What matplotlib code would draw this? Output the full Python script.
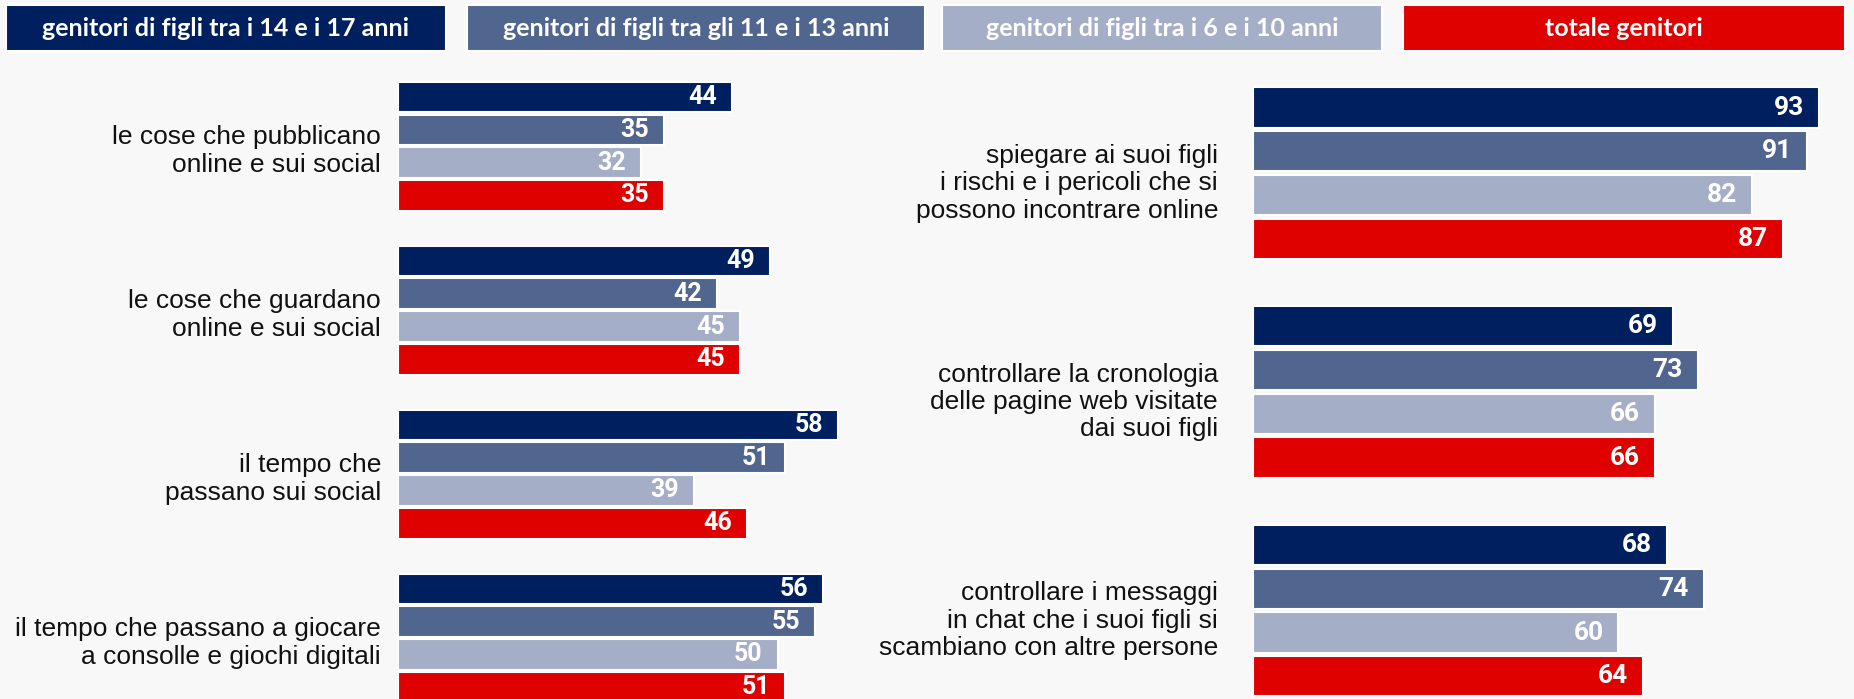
import matplotlib
matplotlib.use("Agg")
import matplotlib.pyplot as plt
from matplotlib.patches import Rectangle

# legend / series
series_names = ["genitori di figli tra i 14 e i 17 anni",
                "genitori di figli tra gli 11 e i 13 anni",
                "genitori di figli tra i 6 e i 10 anni",
                "totale genitori"]
colors = ["#001F5E", "#51668F", "#A4AEC6", "#DF0000"]

# left panel
left_labels = ["le cose che pubblicano\nonline e sui social",
               "le cose che guardano\nonline e sui social",
               "il tempo che\npassano sui social",
               "il tempo che passano a giocare\na consolle e giochi digitali"]
left_values = [[44, 35, 32, 35],
               [49, 42, 45, 45],
               [58, 51, 39, 46],
               [56, 55, 50, 51]]

# right panel
right_labels = ["spiegare ai suoi figli\ni rischi e i pericoli che si\npossono incontrare online",
                "controllare la cronologia\ndelle pagine web visitate\ndai suoi figli",
                "controllare i messaggi\nin chat che i suoi figli si\nscambiano con altre persone"]
right_values = [[93, 91, 82, 87],
                [69, 73, 66, 66],
                [68, 74, 60, 64]]

W, H = 1854, 699
bg = "#F8F8F8"
label_font = ["Liberation Sans", "DejaVu Sans"]
num_font = ["Roboto", "DejaVu Sans"]

fig = plt.figure(figsize=(W / 100, H / 100), dpi=100)
fig.patch.set_facecolor(bg)

# legend boxes along the top
lax = fig.add_axes([0, 0, 1, 1])
lax.set_xlim(0, W)
lax.set_ylim(H, 0)
lax.axis("off")
box_x = [(6, 446), (467, 925), (942, 1382), (1403, 1845)]
for (x0, x1), name, c in zip(box_x, series_names, colors):
    lax.add_patch(Rectangle((x0, 5), x1 - x0, 46, facecolor=c,
                            edgecolor="white", linewidth=1.5))
    lax.text((x0 + x1) / 2, 28, name, color="white", fontsize=18,
             fontweight="bold", ha="center", va="center", family="Lato")


def panel(left_px, xmax, px_per_unit, y0, pitch, values, labels,
          label_off, label_dy, bar_h, numsize):
    width_px = xmax * px_per_unit
    ax = fig.add_axes([left_px / W, 0, width_px / W, 1])
    ax.set_xlim(0, xmax)
    top = -y0 / pitch
    bottom = (H - y0) / pitch
    ax.set_ylim(bottom, top)
    ax.axis("off")
    for g, (vals, lab) in enumerate(zip(values, labels)):
        for j, v in enumerate(vals):
            k = 5 * g + j
            ax.barh(k, v, height=bar_h, color=colors[j], edgecolor="white",
                    linewidth=1.5)
            ax.annotate(str(v), xy=(v, k), xytext=(-15, 0),
                        textcoords="offset pixels", ha="right", va="center",
                        color="white", fontsize=numsize, fontweight="bold",
                        family=num_font)
        ax.annotate(lab, xy=(0, 5 * g + 1.5), xytext=(-label_off, label_dy),
                    textcoords="offset pixels", ha="right", va="center",
                    multialignment="right", fontsize=19, color="#111111",
                    family=label_font, linespacing=1.18)
    return ax


panel(398, 60, 7.59, 97, 32.79, left_values, left_labels, 17, -5, 0.93, 18)
panel(1253, 98, 6.09, 107.6, 43.75, right_values, right_labels, 35, -10, 0.92, 19)

fig.savefig("out.png", dpi=100, facecolor=bg)
